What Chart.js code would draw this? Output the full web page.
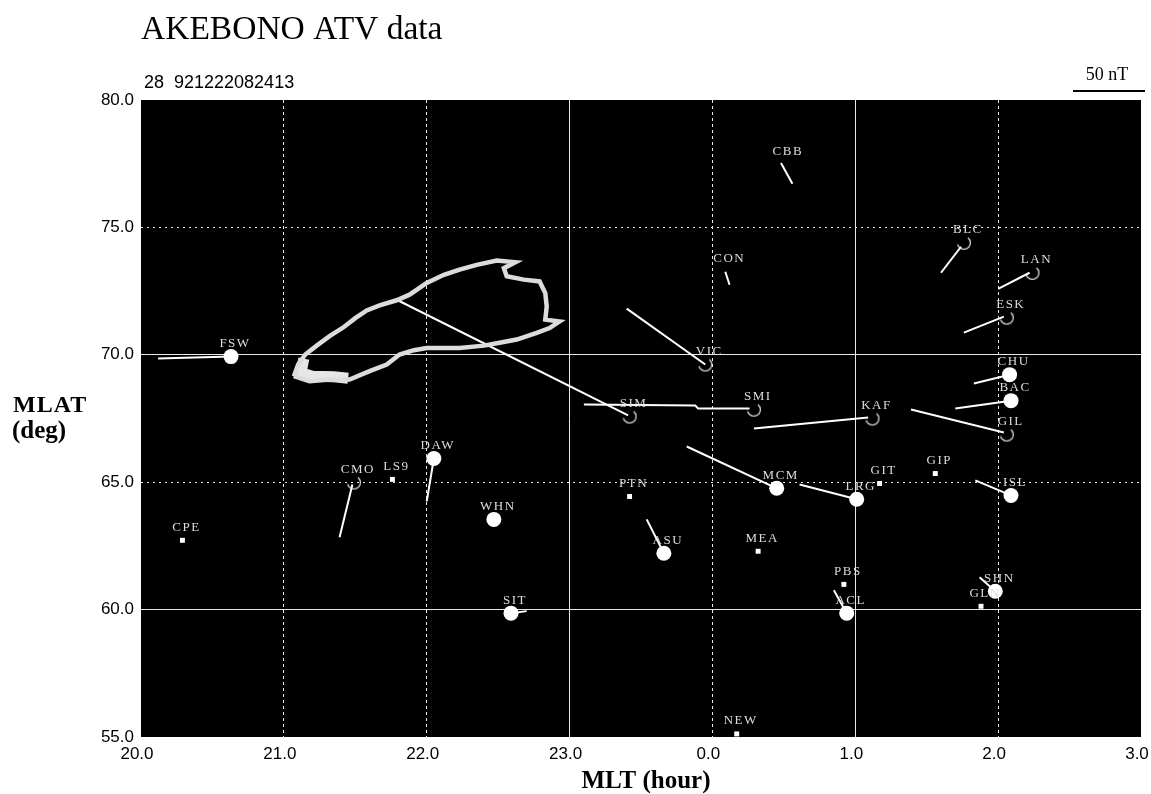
<!DOCTYPE html>
<html>
<head>
<meta charset="utf-8">
<title>AKEBONO ATV data</title>
<style>
  html, body { margin:0; padding:0; background:#fff; }
  canvas { display:block; }
</style>
<script src="https://cdn.jsdelivr.net/npm/chart.js@4"></script>
</head>
<body>
<canvas id="atv" width="1151" height="794"></canvas>
<script>
// x is MLT counted on past midnight, so 24 = 0.0h and 27 = 3.0h
const filledNames = ['FSW','DAW','WHN','SIT','ASU','MCM','LRG','ACL','CHU','BAC','ISL','SHN'];
const filledX = [20.63,22.05,22.47,22.59,23.66,24.45,25.01,24.94,26.08,26.09,26.09,25.98];
const filledY = [69.93,65.93,63.54,59.86,62.21,64.76,64.33,59.86,69.22,68.20,64.48,60.72];

const openNames = ['SIM','SMI','KAF','GIL','ESK','LAN','BLC','CON','VIC','CMO','CBB'];
const openX = [23.42,24.29,25.12,26.06,26.06,26.24,25.76,24.09,23.95,21.49,24.50];
const openY = [67.58,67.85,67.50,66.87,71.46,73.22,74.40,73.26,69.62,64.99,77.45];
const noArc = ['CON','CBB'];

const squareNames = ['CPE','LS9','PTN','MEA','PBS','GLN','GIT','GIP','NEW'];
const squareX = [20.29,21.76,23.42,24.32,24.92,25.88,25.17,25.56,24.17];
const squareY = [62.72,65.11,64.44,62.29,60.99,60.13,64.95,65.34,55.12];

// magnetic field vectors, one polyline per station
const vectorLines = [
  [[20.63,69.93],[20.12,69.85]],
  [[22.05,65.93],[22.00,64.25]],
  [[22.59,59.86],[22.70,59.94]],
  [[23.66,62.21],[23.54,63.54]],
  [[24.45,64.76],[23.82,66.40]],
  [[25.01,64.33],[24.61,64.91]],
  [[24.94,59.86],[24.85,60.76]],
  [[26.08,69.22],[25.83,68.87]],
  [[26.09,68.20],[25.70,67.89]],
  [[26.09,64.48],[25.84,65.07]],
  [[25.98,60.72],[25.87,61.27]],
  [[23.41,67.62],[21.79,72.16]],
  [[24.26,67.89],[23.90,67.89],[23.88,68.01],[23.10,68.05]],
  [[25.09,67.54],[24.29,67.11]],
  [[26.04,66.95],[25.39,67.85]],
  [[26.04,71.50],[25.76,70.87]],
  [[26.22,73.22],[26.00,72.59]],
  [[25.74,74.24],[25.60,73.22]],
  [[24.09,73.26],[24.12,72.75]],
  [[23.95,69.62],[23.40,71.81]],
  [[21.48,64.91],[21.39,62.84]],
  [[24.48,77.53],[24.56,76.71]]
];

const ovalX = [21.07,21.10,21.15,21.23,21.32,21.42,21.50,21.58,21.67,21.79,21.88,22.00,22.12,22.23,22.35,22.49,22.62,22.54,22.56,22.68,22.79,22.83,22.84,22.83,22.93,22.86,22.77,22.63,22.51,22.40,22.23,22.09,22.00,21.91,21.81,21.72,21.60,21.46,21.32,21.18,21.07];
const ovalY = [69.16,69.62,70.01,70.36,70.73,71.09,71.44,71.74,71.94,72.14,72.36,72.82,73.14,73.34,73.53,73.70,73.63,73.40,73.08,72.95,72.88,72.42,71.90,71.38,71.31,71.05,70.86,70.60,70.47,70.36,70.27,70.27,70.27,70.18,70.01,69.62,69.36,69.03,69.03,68.96,69.16];
const blobX = [21.14,21.12,21.20,21.35,21.45];
const blobY = [69.85,69.30,69.16,69.14,69.08];

const xTickStep = 1;
const yTickStep = 5;
const solidX = [23,25];
const solidY = [60,70];

function pairs(xs, ys){ return xs.map((x,i) => ({ x, y:ys[i] })); }

// degraded open circle: only the right and lower part prints
function arcMarker(){
  const c = document.createElement('canvas');
  c.width = 18; c.height = 18;
  const g = c.getContext('2d');
  g.strokeStyle = '#eee';
  g.lineWidth = 1.2;
  g.beginPath();
  g.arc(9, 9, 6.5, -0.9, 2.9);
  g.stroke();
  return c;
}

function textAt(ctx, str, x, y, font, color, align, spacing){
  ctx.font = font;
  ctx.fillStyle = color || '#000';
  ctx.textAlign = align || 'left';
  ctx.textBaseline = 'middle';
  ctx.letterSpacing = spacing || '0px';
  ctx.fillText(str, x, y);
  ctx.letterSpacing = '0px';
}

const plotBackground = {
  id:'plotBackground',
  beforeDraw(chart){
    const a = chart.chartArea;
    chart.ctx.save();
    chart.ctx.fillStyle = '#000';
    chart.ctx.fillRect(a.left, a.top, a.right-a.left, a.bottom-a.top);
    chart.ctx.restore();
  }
};

const stationLabels = {
  id:'stationLabels',
  afterDatasetsDraw(chart){
    const ctx = chart.ctx, sx = chart.scales.x, sy = chart.scales.y;
    ctx.save();
    const put = (names, xs, ys) => names.forEach((n,i) => {
      textAt(ctx, n, sx.getPixelForValue(xs[i])+4, sy.getPixelForValue(ys[i])-13, '13px "Liberation Serif"', '#ddd', 'center', '1.5px');
    });
    put(filledNames, filledX, filledY);
    put(openNames, openX, openY);
    put(squareNames, squareX, squareY);
    ctx.restore();
  }
};

const sideNotes = {
  id:'sideNotes',
  afterDraw(chart){
    const ctx = chart.ctx;
    ctx.save();
    textAt(ctx, '28  921222082413', 144, 83, '18px "Liberation Sans"', '#000');
    textAt(ctx, '50 nT', 1107, 75, '18px "Liberation Serif"', '#000', 'center');
    ctx.strokeStyle = '#000';
    ctx.lineWidth = 2;
    ctx.beginPath(); ctx.moveTo(1073, 91); ctx.lineTo(1145, 91); ctx.stroke();
    textAt(ctx, 'MLAT', 13, 406, 'bold 24px "Liberation Serif"', '#000', 'left', '1px');
    textAt(ctx, '(deg)', 12, 432, 'bold 25px "Liberation Serif"', '#000');
    textAt(ctx, 'MLT (hour)', 646, 782, 'bold 25px "Liberation Serif"', '#000', 'center');
    ctx.restore();
  }
};

const marker = arcMarker();
const datasets = [
  { data:pairs(ovalX,ovalY), showLine:true, borderColor:'#dcdcdc', borderWidth:4.5, pointRadius:0 },
  { data:pairs(blobX,blobY), showLine:true, borderColor:'#e6e6e6', borderWidth:11, pointRadius:0 },
  { data:pairs(ovalX,ovalY), showLine:true, borderColor:'#fff', borderWidth:2.5, pointRadius:0 }
];
vectorLines.forEach(line => {
  datasets.push({ data:line.map(p => ({ x:p[0], y:p[1] })), showLine:true, borderColor:'#fff', borderWidth:2, pointRadius:0 });
});
datasets.push({ data:pairs(filledX,filledY), pointStyle:'circle', pointRadius:7.5, backgroundColor:'#fff', borderColor:'#fff', borderWidth:0 });
datasets.push({ data:pairs(openX,openY), pointStyle:marker, pointRadius:openNames.map(n => noArc.includes(n) ? 0 : 9) });
datasets.push({ data:pairs(squareX,squareY), pointStyle:'rect', pointRadius:3.5, backgroundColor:'#fff', borderColor:'#fff', borderWidth:0 });

new Chart(document.getElementById('atv'), {
  type:'scatter',
  data:{ datasets },
  plugins:[plotBackground, stationLabels, sideNotes],
  options:{
    responsive:false,
    animation:false,
    layout:{ padding:{ right:10 } },
    plugins:{
      legend:{ display:false },
      tooltip:{ enabled:false },
      title:{
        display:true,
        text:'AKEBONO ATV data',
        align:'start',
        fullSize:false,
        color:'#000',
        font:{ family:'"Liberation Serif"', size:33.5, weight:'normal', lineHeight:1.2 },
        padding:{ top:10, bottom:49.8 }
      }
    },
    scales:{
      x:{
        type:'linear', min:20, max:27,
        afterFit(s){ s.height = 57; s.paddingLeft = 0; s.paddingRight = 0; },
        ticks:{ stepSize:xTickStep, color:'#000', padding:7, labelOffset:-4, maxRotation:0, font:{ family:'"Liberation Sans"', size:17 },
          callback:v => (v % 24).toFixed(1) },
        border:{ display:false, dash:c => solidX.includes(c.tick && c.tick.value) ? [] : [3,3] },
        grid:{ drawTicks:false, lineWidth:1,
          color:c => (c.tick.value === 20 || c.tick.value === 27) ? 'rgba(0,0,0,0)' : '#e8e8e8' }
      },
      y:{
        type:'linear', min:55, max:80,
        afterFit(s){ s.width = 141; s.paddingTop = 0; s.paddingBottom = 0; },
        ticks:{ stepSize:yTickStep, color:'#000', padding:7, font:{ family:'"Liberation Sans"', size:17 },
          callback:v => v.toFixed(1) },
        border:{ display:false, dash:c => solidY.includes(c.tick && c.tick.value) ? [] : [2,4] },
        grid:{ drawTicks:false, lineWidth:1,
          color:c => (c.tick.value === 55 || c.tick.value === 80) ? 'rgba(0,0,0,0)' : '#e8e8e8' }
      }
    }
  }
});
</script>
</body>
</html>
